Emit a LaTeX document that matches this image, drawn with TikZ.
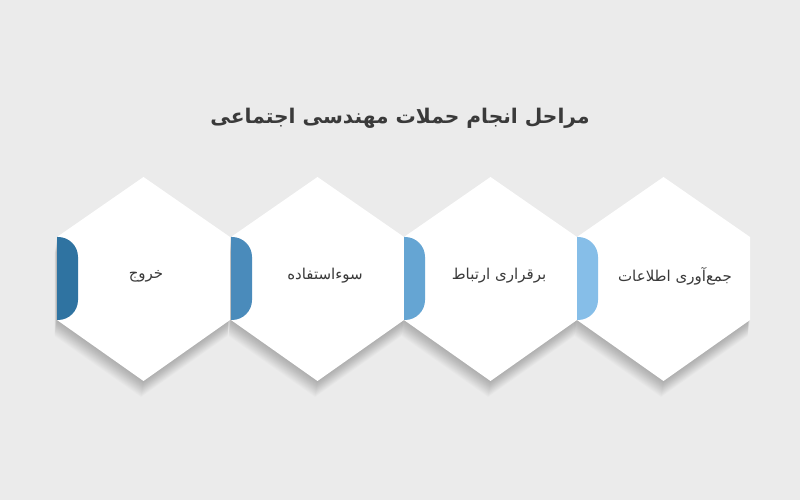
\documentclass[tikz,border=0pt]{standalone}
\usepackage{fontspec}
\TeXXeTstate=1
\newfontfamily\arabicfont[Script=Arabic]{DejaVu Sans}
\definecolor{bg}{HTML}{EBEBEB}
\definecolor{txt}{HTML}{3A3A3A}
\definecolor{tabA}{HTML}{2F73A1}
\definecolor{tabB}{HTML}{4A8BBB}
\definecolor{tabC}{HTML}{65A5D3}
\definecolor{tabD}{HTML}{86BEE8}
\tikzset{
  hexshape/.style={fill=white, draw=none},
  shadowlayer/.style={fill=black, fill opacity=0.014, draw=none},
  lbl/.style={text=txt, font=\arabicfont\fontsize{15}{17}\selectfont, inner sep=0pt},
}
\newcommand{\hexpath}[1]{(#1,323) -- (#1+86.5,263) -- (#1+86.5,180) -- (#1,119) -- (#1-86.5,180) -- (#1-86.5,263) -- cycle}
\newcommand{\hexshadow}[1]{%
  \foreach \k in {1,...,16}{
    \fill[shadowlayer, xshift=-0.15*\k pt, yshift=-\k pt] \hexpath{#1};
  }
}
\newcommand{\hexat}[2]{% center x, tab colour
  \path[hexshape] \hexpath{#1};
  \fill[#2] (#1-86.5,263) -- (#1-85.5,263) arc[start angle=90,end angle=0,radius=20] -- (#1-65.5,200) arc[start angle=0,end angle=-90,radius=20] -- (#1-86.5,180) -- cycle;
}
\begin{document}
\begin{tikzpicture}[x=1pt,y=1pt]
\fill[bg] (0,0) rectangle (800,500);
\useasboundingbox (0,0) rectangle (800,500);
\hexshadow{143.5}
\hexshadow{317.5}
\hexshadow{490.5}
\hexshadow{663.5}
\hexat{143.5}{tabA}
\hexat{317.5}{tabB}
\hexat{490.5}{tabC}
\hexat{663.5}{tabD}
\node[text=txt, font=\arabicfont\bfseries\fontsize{20.2}{22}\selectfont, inner sep=0pt] (title) at (400,382) {\beginR مراحل انجام حملات مهندسی اجتماعی\endR};
\node[lbl] (l1) at (146,224) {\beginR خروج\endR};
\node[lbl] (l2) at (325,224) {\beginR سوءاستفاده\endR};
\node[lbl] (l3) at (499,224) {\beginR برقراری ارتباط\endR};
\node[lbl] (l4) at (675,224) {\beginR جمع‌آوری اطلاعات\endR};
\end{tikzpicture}
\end{document}
